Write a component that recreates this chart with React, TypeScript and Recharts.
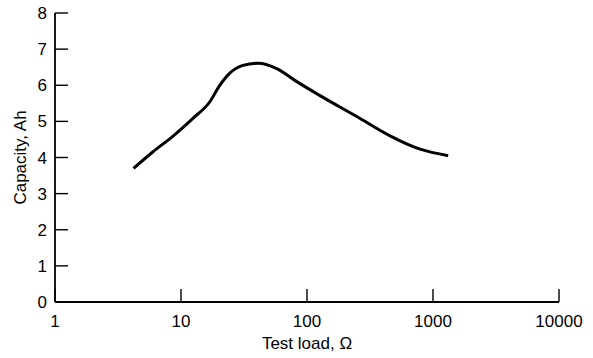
import { Label, Line, LineChart, XAxis, YAxis } from "recharts";

// capacity vs test load
const loads = [4.2, 6, 8.7, 12.5, 17, 20, 24.5, 31, 41, 57, 83, 123, 264, 456, 790, 1320];
const capacity = [3.7, 4.16, 4.6, 5.09, 5.55, 5.96, 6.34, 6.55, 6.61, 6.47, 6.1, 5.74, 5.08, 4.6, 4.23, 4.05];
const xTicks = [1, 10, 100, 1000, 10000];
const yTicks = [0, 1, 2, 3, 4, 5, 6, 7, 8];

const FONT = '"Liberation Sans", Arial, Helvetica, sans-serif';
const INK = "#000000";

const chartData = loads.map((load, i) => ({ load, capacity: capacity[i] }));

function YTitle(props: any) {
  const vb = props?.viewBox ?? {};
  const cx = Number(vb.x ?? 0) + 20;
  const cy = Number(vb.y ?? 0) + Number(vb.height ?? 0) / 2;
  return (
    <text
      x={cx}
      y={cy}
      transform={`rotate(-90 ${cx} ${cy})`}
      textAnchor="middle"
      dominantBaseline="central"
      fill={INK}
      fontSize={17}
      fontFamily={FONT}
    >
      Capacity, Ah
    </text>
  );
}

function XTitle(props: any) {
  const vb = props?.viewBox ?? {};
  const cx = Number(vb.x ?? 0) + Number(vb.width ?? 0) / 2;
  return (
    <text
      x={cx}
      y={349}
      textAnchor="middle"
      fill={INK}
      fontSize={17}
      fontFamily={FONT}
    >
      Test load, Ω
    </text>
  );
}

export default function App() {
  return (
    <div style={{ position: "absolute", left: 0, top: 0, background: "#fff" }}>
      <LineChart
        width={593}
        height={358}
        data={chartData}
        margin={{ top: 13, right: 34, bottom: 0, left: 0 }}
      >
        <XAxis
          dataKey="load"
          type="number"
          scale="log"
          domain={[1, 10000]}
          ticks={xTicks}
          allowDataOverflow
          height={56}
          tickSize={-13}
          tickMargin={26}
          axisLine={{ stroke: INK, strokeWidth: 1.8 }}
          tickLine={{ stroke: INK, strokeWidth: 1.4 }}
          tick={{ fill: INK, fontSize: 17, fontFamily: FONT }}
          interval={0}
        >
          <Label content={<XTitle />} />
        </XAxis>
        <YAxis
          type="number"
          domain={[0, 8]}
          ticks={yTicks}
          width={55}
          tickSize={-13}
          tickMargin={21}
          axisLine={{ stroke: INK, strokeWidth: 1.8 }}
          tickLine={{ stroke: INK, strokeWidth: 1.4 }}
          tick={{ fill: INK, fontSize: 17, fontFamily: FONT }}
          interval={0}
        >
          <Label content={<YTitle />} />
        </YAxis>
        <Line
          type="monotone"
          dataKey="capacity"
          stroke={INK}
          strokeWidth={3}
          dot={false}
          activeDot={false}
          isAnimationActive={false}
        />
      </LineChart>
    </div>
  );
}
